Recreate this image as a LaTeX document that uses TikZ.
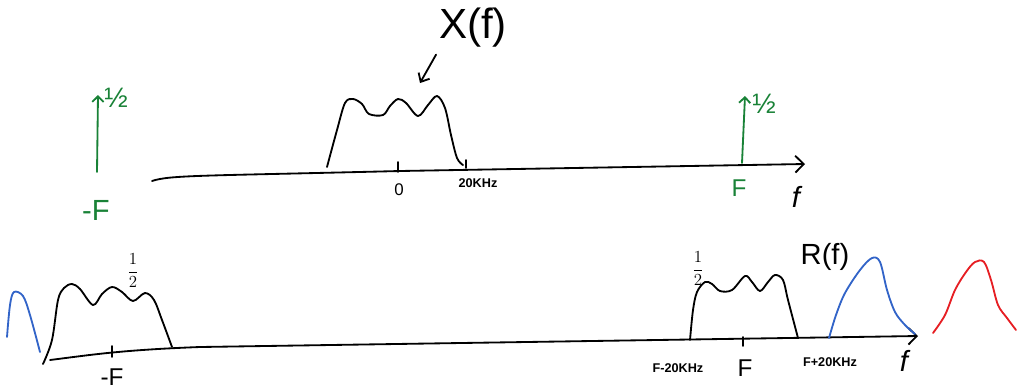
\documentclass[tikz,border=0pt]{standalone}
\usepackage{fontspec}
\setmainfont{Liberation Sans}
\usetikzlibrary{arrows.meta,positioning}
\definecolor{dgreen}{RGB}{25,130,55}
\definecolor{pblue}{RGB}{50,100,200}
\definecolor{pred}{RGB}{230,30,35}
\tikzset{sig/.style={line width=1.3pt,line cap=round,line join=round},
 axis/.style={sig,-{Straight Barb[length=6pt,width=12pt]}},
 lbl/.style={inner sep=1pt,font=\small},
 khz/.style={lbl,font=\small\bfseries},
 half/.style={lbl,font=\fontsize{20}{22}\selectfont},
 imp/.style={sig,dgreen,-{Straight Barb[length=4pt,width=8pt]}}}

\begin{document}
\begin{tikzpicture}[x=0.025cm,y=-0.025cm]
\useasboundingbox (0,0) rectangle (1017,390);
% top: X(f)
\draw[axis] (152,181) .. controls (170,175) and (200,176) .. (400,171) -- (805,164);
\draw[sig] plot[smooth,tension=0.55] coordinates {(327,167) (337,130) (345,103) (353,99) (362,104) (369,114) (383,115) (390,106) (398,99) (406,103) (418,116) (428,105) (437,96) (445,108) (451,135) (457,158) (463,165)};
\draw[sig] (398,162)--(398,172);
\draw[sig] (466,160)--(466,168);
\node(zero)[lbl,font=\large] at (399,190){0};
\node(twenty)[khz] at (478,183){20KHz};
\node(Xlab)[font=\fontsize{30}{32}\selectfont] at (473,28){X(f)};
\coordinate(Xpt) at (420,83);
\draw[sig,-{Straight Barb[length=5pt,width=9pt]}] (Xlab.south west)++(2,2) -- (Xpt);
% impulses
\coordinate(mF0) at (97,172); \coordinate(mF1) at (98,95);
\coordinate(pF0) at (742,163); \coordinate(pF1) at (745,96);
\draw[imp] (mF0)--(mF1);
\draw[imp] (pF0)--(pF1);
\node(mFhalf)[half,dgreen] at (116,98){½};
\node(pFhalf)[half,dgreen] at (764,104){½};
\node(mF)[lbl,dgreen,font=\huge] at (96,210){-F};
\node(pF)[lbl,dgreen,font=\LARGE] at (739,188){F};
\node(ftop)[lbl,font=\huge\itshape] at (796,197){f};
% bottom: R(f)
\draw[axis] (50,360) .. controls (90,355) and (120,350) .. (200,347) -- (918,336);
\draw[sig] plot[smooth,tension=0.55] coordinates {(43,364) (52,340) (58,300) (64,288) (72,284) (80,289) (93,305) (102,294) (112,287) (122,292) (133,301) (145,293) (154,300) (162,320) (172,347)};
\draw[sig] (112,346)--(112,357);
\node(lhalf)[lbl,font=\large] at (133,271){$\displaystyle\frac{1}{2}$};
\node(lF)[lbl,font=\LARGE] at (112,377){-F};
\draw[sig] plot[smooth,tension=0.55] coordinates {(690,340) (693,310) (697,292) (705,282) (712,284) (720,291) (732,290) (745,276) (752,282) (760,291) (768,282) (775,275) (783,280) (788,300) (798,338)};
\draw[sig] (743,337)--(743,346);
\node(rhalf)[lbl,font=\large] at (698,269){$\displaystyle\frac{1}{2}$};
\node(lo)[khz] at (678,368){F-20KHz};
\node(cF)[lbl,font=\LARGE] at (745,368){F};
\node(hi)[khz] at (830,362){F+20KHz};
\node(fbot)[lbl,font=\huge\itshape] at (904,361){f};
\node(Rlab)[font=\huge] at (825,257){R(f)};
% images
\draw[sig,pblue] plot[smooth,tension=0.55] coordinates {(7,337) (10,305) (14,292) (23,296) (30,315) (40,352)};
\draw[sig,pblue] plot[smooth,tension=0.55] coordinates {(829,338) (836,315) (845,293) (860,270) (872,258) (880,262) (887,290) (895,312) (905,325) (915,334)};
\draw[sig,pred] plot[smooth,tension=0.55] coordinates {(933,333) (945,315) (955,290) (966,272) (975,262) (984,262) (991,280) (998,305) (1007,318) (1016,330)};
\end{tikzpicture}
\end{document}
